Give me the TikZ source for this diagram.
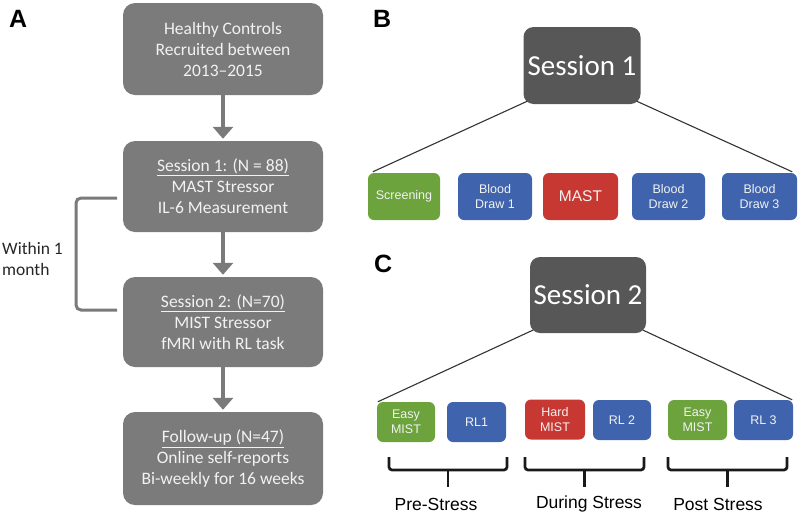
\documentclass[tikz,border=0pt]{standalone}
\usepackage{fontspec}
\setmainfont{Carlito}
\newfontfamily\arial{Liberation Sans}
\usetikzlibrary{arrows.meta}
\definecolor{boxA}{HTML}{7B7B7B}
\definecolor{txtA}{HTML}{F2F2F2}
\definecolor{sess}{HTML}{575757}
\definecolor{grn}{HTML}{6CA33C}
\definecolor{blu}{HTML}{3F64AD}
\definecolor{rd}{HTML}{C83833}
\definecolor{lnA}{HTML}{7A7A7A}
\tikzset{
  flowbox/.style={rectangle, rounded corners=12pt, fill=boxA, text=txtA, minimum width=200pt, align=center,
    font=\fontsize{17.5}{21}\selectfont, inner sep=0pt},
  sessbox/.style={rectangle, rounded corners=10pt, fill=sess, text=white, minimum width=117pt, minimum height=77pt,
    font=\fontsize{29}{34}\selectfont, inner sep=0pt},
  smallbox/.style={rectangle, rounded corners=6pt, text=white!90!gray, align=center, inner sep=0pt,
    font=\arial\fontsize{12.5}{15}\selectfont},
  gbox/.style={smallbox, fill=grn},
  bbox/.style={smallbox, fill=blu},
  rbox/.style={smallbox, fill=rd},
  flowarrow/.style={draw=lnA, line width=4.5pt, -{Triangle[width=20pt,length=12pt]}, shorten >=2pt},
  treeline/.style={draw=black!80, line width=1.1pt},
  bracestyle/.style={draw=black!90, line width=2.7pt, rounded corners=3pt},
  panel/.style={font=\arial\bfseries\fontsize{25}{30}\selectfont, anchor=north west, inner sep=0pt},
  phase/.style={font=\arial\fontsize{17.5}{20}\selectfont, inner sep=0pt}
}
\begin{document}
\begin{tikzpicture}[x=1pt,y=-1pt]
\useasboundingbox (0,0) rectangle (800,517);
% Panel labels
\node[panel] (lA) at (9,10) {A};
\node[panel] (lB) at (373,10) {B};
\node[panel] (lC) at (374,255) {C};
% Panel A
\node[flowbox, minimum height=92pt] (a1) at (223,49) {Healthy Controls\\Recruited between\\2013--2015};
\node[flowbox, minimum height=91pt] (a2) at (223,186.5) {\underline{Session 1: (N = 88)}\\MAST Stressor\\IL-6 Measurement};
\node[flowbox, minimum height=90pt] (a3) at (223,322) {\underline{Session 2: (N=70)}\\MIST Stressor\\fMRI with RL task};
\node[flowbox, minimum height=93pt] (a4) at (223,458.5) {\underline{Follow-up (N=47)}\\Online self-reports\\Bi-weekly for 16 weeks};
\draw[flowarrow] (a1) -- (a2);
\draw[flowarrow] (a2) -- (a3);
\draw[flowarrow] (a3) -- (a4);
\coordinate (bt) at (117,198);
\coordinate (bb) at (117,310);
\draw[draw=lnA, line width=3pt, rounded corners=5pt] (bt) -- (76,198) -- (76,310) -- (bb);
\node[anchor=west, align=left, inner sep=0pt, font=\fontsize{17.5}{21}\selectfont, text=black!85] (wm) at (2,259) {Within 1\\month};
% Panel B
\node[sessbox] (s1) at (582,65.5) {Session 1};
\node[gbox, minimum width=72pt, minimum height=47pt] (scr) at (404,196.5) {Screening};
\node[bbox, minimum width=74pt, minimum height=47pt] (bd1) at (495,196.5) {Blood\\Draw 1};
\node[rbox, minimum width=75pt, minimum height=47pt, font=\arial\fontsize{15.5}{18}\selectfont] (mast) at (580.5,196.5) {MAST};
\node[bbox, minimum width=73pt, minimum height=47pt] (bd2) at (668.5,196.5) {Blood\\Draw 2};
\node[bbox, minimum width=75pt, minimum height=47pt] (bd3) at (759.5,196.5) {Blood\\Draw 3};
\draw[treeline] ([shift={(4,-3)}]s1.south west) -- ([shift={(5,-1)}]scr.north west);
\draw[treeline] ([shift={(-4,-3)}]s1.south east) -- ([shift={(-5,-1)}]bd3.north east);
% Panel C
\node[sessbox, minimum width=116pt, minimum height=76pt] (s2) at (588,295) {Session 2};
\node[gbox, minimum width=58pt, minimum height=40pt] (em1) at (406,422) {Easy\\MIST};
\node[bbox, minimum width=59pt, minimum height=40pt] (rl1) at (476.5,422) {RL1};
\node[rbox, minimum width=60pt, minimum height=40pt] (hm) at (555,419.5) {Hard\\MIST};
\node[bbox, minimum width=58pt, minimum height=40pt] (rl2) at (622,420) {RL 2};
\node[gbox, minimum width=59pt, minimum height=40pt] (em2) at (697.5,420) {Easy\\MIST};
\node[bbox, minimum width=59pt, minimum height=40pt] (rl3) at (763.5,420) {RL 3};
\draw[treeline] ([shift={(3,-3)}]s2.south west) -- ([shift={(1,0)}]em1.north west);
\draw[treeline] ([shift={(-3,-3)}]s2.south east) -- ([shift={(-1,0)}]rl3.north east);
% braces
\draw[bracestyle] (389,457) -- (389,470) -- (507,470) -- (507,457);
\draw[bracestyle] (448,470) -- (448,487);
\draw[bracestyle] (525,457) -- (525,470) -- (644,470) -- (644,457);
\draw[bracestyle] (584.5,470) -- (584.5,487);
\draw[bracestyle] (668,457) -- (668,470) -- (787,470) -- (787,457);
\draw[bracestyle] (727.5,470) -- (727.5,487);
\node[phase] (p1) at (436,504) {Pre-Stress};
\node[phase] (p2) at (589,504) {During Stress};
\node[phase] (p3) at (718,504) {Post Stress};
\end{tikzpicture}
\end{document}
